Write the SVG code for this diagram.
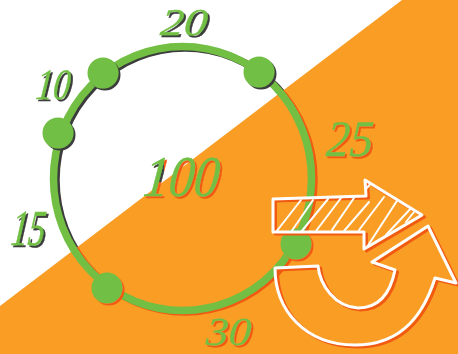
<svg xmlns="http://www.w3.org/2000/svg" width="458" height="354" viewBox="0 0 458 354">
<defs>
<filter id="sd" x="-20%" y="-20%" width="140%" height="140%"><feOffset in="SourceAlpha" dx="2" dy="1.500" result="o"/><feFlood flood-color="#3c3c3c"/><feComposite in2="o" operator="in"/><feMerge><feMergeNode/><feMergeNode in="SourceGraphic"/></feMerge></filter>
<filter id="sr" x="-20%" y="-20%" width="140%" height="140%"><feOffset in="SourceAlpha" dx="2" dy="1.500" result="o"/><feFlood flood-color="#f15a12"/><feComposite in2="o" operator="in"/><feMerge><feMergeNode/><feMergeNode in="SourceGraphic"/></feMerge></filter>
<filter id="sm" filterUnits="userSpaceOnUse" primitiveUnits="userSpaceOnUse" x="120" y="140" width="120" height="70"><feOffset in="SourceAlpha" dx="2" dy="1.500" result="o"/><feFlood flood-color="#f15a12" x="120" y="140" width="120" height="70" result="r"/><feFlood flood-color="#3c3c3c" x="120" y="140" width="44" height="42" result="d"/><feMerge result="c"><feMergeNode in="r"/><feMergeNode in="d"/></feMerge><feComposite in="c" in2="o" operator="in" result="s"/><feMerge><feMergeNode in="s"/><feMergeNode in="SourceGraphic"/></feMerge></filter>
<clipPath id="top"><polygon points="0,0 402,0 0,306"/></clipPath>
<clipPath id="bot"><polygon points="402,0 458,0 458,354 0,354 0,306"/></clipPath>
<clipPath id="arrow"><path d="M273,199 L366,196 L365,180 L422,215 L364,249 L364,232 L273,232Z"/></clipPath>
</defs>
<style>
.lbl{font-family:"Liberation Serif",serif;font-style:italic;font-size:36px;fill:#72bf44;stroke:#72bf44;stroke-width:.3px;text-anchor:middle}
.ring{fill:none;stroke-width:7.500}
.dot{fill:#72bf44}
.wh{fill:none;stroke:#fff;stroke-width:3;stroke-linejoin:round;stroke-linecap:round}
.sh{fill:none;stroke:#f15a12;stroke-width:3;stroke-linejoin:round}
</style>
<rect width="458" height="354" fill="#fff"/>
<polygon points="402,0 458,0 458,354 0,354 0,306" fill="#f99d25"/>
<g id="connectors">
<ellipse class="ring" cx="185" cy="180" rx="129" ry="132" stroke="#3c3c3c" clip-path="url(#top)"/>
<ellipse class="ring" cx="185" cy="180" rx="129" ry="132" stroke="#f15a12" clip-path="url(#bot)"/>
<ellipse class="ring" cx="182.500" cy="178.500" rx="129" ry="132" stroke="#72bf44"/>
</g>
<g id="node-a"><circle class="dot" cx="103" cy="73" r="15.500" filter="url(#sd)"/></g>
<g id="node-b"><circle class="dot" cx="58" cy="133" r="15.500" filter="url(#sd)"/></g>
<g id="node-c"><circle class="dot" cx="259" cy="72" r="15.500" filter="url(#sd)"/></g>
<g id="node-d"><circle class="dot" cx="107" cy="288" r="15.500" filter="url(#sr)"/></g>
<g id="node-e"><circle class="dot" cx="296" cy="244" r="15.500" filter="url(#sr)"/></g>
<g id="labels">
<g filter="url(#sd)"><text class="lbl" transform="translate(183,35) skewX(-6) scale(1.3,1.05)">20</text></g>
<g filter="url(#sd)"><text class="lbl" transform="translate(52,99) skewX(-6) scale(.95,1.2)">10</text></g>
<g filter="url(#sd)"><text class="lbl" transform="translate(27,245) skewX(-6) scale(.95,1.4)">15</text></g>
<g filter="url(#sr)"><text class="lbl" transform="translate(349,156) skewX(-4) scale(1.3,1.42)">25</text></g>
<g filter="url(#sr)"><text class="lbl" transform="translate(228,345) skewX(-4) scale(1.25,1.1)">30</text></g>
<g filter="url(#sm)"><text class="lbl" transform="translate(180,196) skewX(-6) scale(1.4,1.6)">100</text></g>
</g>
<g id="arrow-straight">
<path class="sh" transform="translate(2.500,2)" d="M273,199 L366,196 L365,180 L422,215 L364,249 L364,232 L273,232Z"/>
<g clip-path="url(#arrow)"><path d="M276,232 L301,200 M291,232 L313,200 M301,232 L328,199 M316,231 L341,198 M332,230 L354,198 M344,231 L369,202 M359,230 L384,197 M367,247 L404,190 M386,235 L414,205 M406,222 L414,212 M366,189 L372,182" fill="none" stroke="#fff" stroke-width="2" stroke-linecap="round"/></g>
<path class="wh" d="M273,199 L366,196 L365,180 L422,215 L364,249 L364,232 L273,232Z"/>
</g>
<g id="arrow-curved">
<path class="sh" transform="translate(2.500,2)" d="M275,268 L318,266 C320,285 335,307 358,308 C378,308 390,295 395,270 L372,262 L428,226 L456,283 L435,278 C425,310 405,345 355,345 C305,345 275,310 275,268Z"/>
<path class="wh" d="M275,268 L318,266 C320,285 335,307 358,308 C378,308 390,295 395,270 L372,262 L428,226 L456,283 L435,278 C425,310 405,345 355,345 C305,345 275,310 275,268Z"/>
</g>
</svg>
